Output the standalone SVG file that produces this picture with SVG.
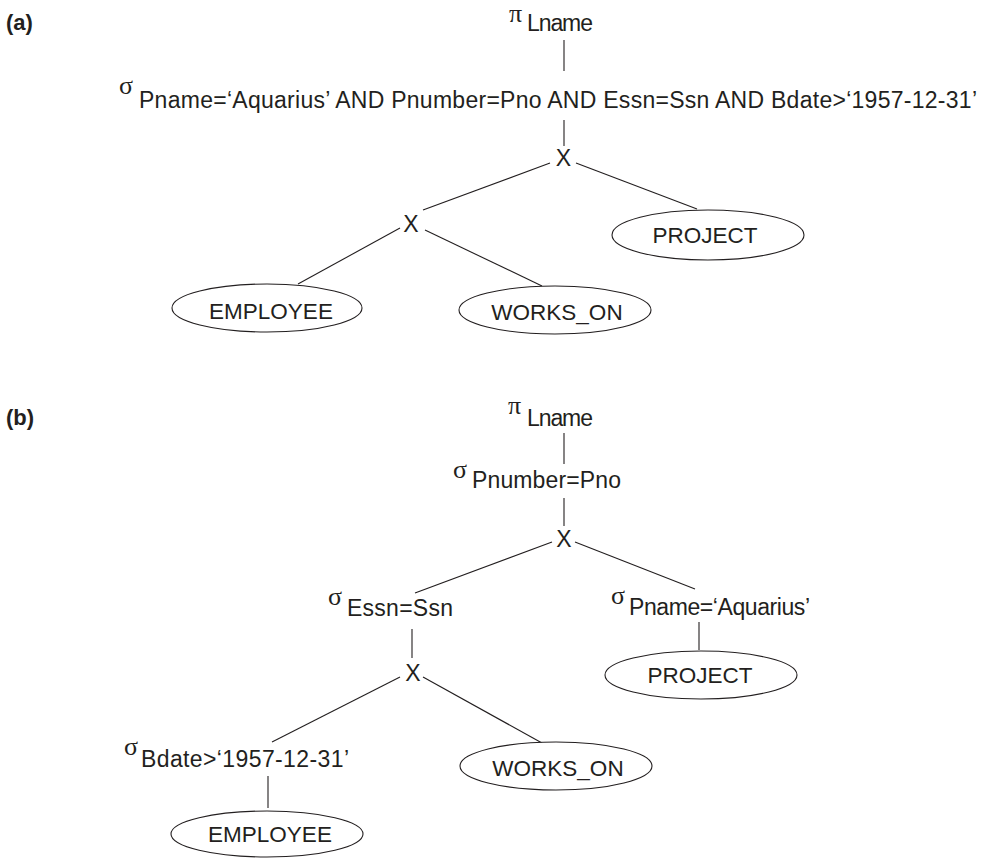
<svg xmlns="http://www.w3.org/2000/svg" width="994" height="858" viewBox="0 0 994 858">
<style>
.t{font-family:"Liberation Sans",Arial,sans-serif;font-size:23px;fill:#231f20}
.e{font-family:"Liberation Sans",Arial,sans-serif;font-size:22.5px;fill:#231f20;text-anchor:middle}
.x{font-family:"Liberation Sans",Arial,sans-serif;font-size:23px;fill:#231f20;text-anchor:middle}
.g{font-family:"Liberation Serif","Times New Roman",serif;font-size:26px;fill:#231f20}
.lbl{font-family:"Liberation Sans",Arial,sans-serif;font-size:22px;font-weight:bold;fill:#231f20}
.el{fill:#fff;stroke:#231f20;stroke-width:1.1}
.c line{stroke:#231f20;stroke-width:1.1}
</style>
<rect width="994" height="858" fill="#fff"/>
<text class="lbl" x="6" y="30">(a)</text>
<text class="lbl" x="6" y="425">(b)</text>

<g class="c" id="connectors">
<line x1="564" y1="40" x2="564" y2="71"/>
<line x1="564" y1="120" x2="564" y2="146"/>
<line x1="550" y1="163" x2="423" y2="210"/>
<line x1="576" y1="163" x2="697" y2="209"/>
<line x1="400" y1="228" x2="298" y2="284"/>
<line x1="425" y1="230" x2="542" y2="286"/>
<line x1="564" y1="433" x2="564" y2="464"/>
<line x1="564" y1="498" x2="564" y2="526"/>
<line x1="552" y1="542" x2="415" y2="593"/>
<line x1="575" y1="542" x2="695" y2="589"/>
<line x1="699" y1="622" x2="699" y2="650"/>
<line x1="412" y1="629" x2="412" y2="658"/>
<line x1="400" y1="677" x2="272" y2="742"/>
<line x1="423" y1="677" x2="542" y2="743"/>
<line x1="268" y1="776" x2="268" y2="808"/>
</g>

<g id="a-pi"><text class="g" x="509" y="22" font-size="22">π</text><text class="t" x="527" y="31" textLength="66">Lname</text></g>
<g id="a-sigma"><text class="g" x="119" y="94">σ</text><text class="t" x="139" y="108" textLength="838" lengthAdjust="spacing">Pname=‘Aquarius’ AND Pnumber=Pno AND Essn=Ssn AND Bdate&gt;‘1957-12-31’</text></g>
<g id="a-x1"><text class="x" x="563.5" y="166">X</text></g>
<g id="a-x2"><text class="x" x="411" y="232">X</text></g>
<g id="a-project"><ellipse class="el" cx="708" cy="235" rx="96" ry="25"/><text class="e" x="705" y="243">PROJECT</text></g>
<g id="a-employee"><ellipse class="el" cx="267" cy="308" rx="95" ry="24"/><text class="e" x="271" y="319">EMPLOYEE</text></g>
<g id="a-workson"><ellipse class="el" cx="555" cy="310" rx="96" ry="24"/><text class="e" x="557" y="320">WORKS_ON</text></g>

<g id="b-pi"><text class="g" x="508" y="414">π</text><text class="t" x="527" y="426" textLength="66">Lname</text></g>
<g id="b-sigma1"><text class="g" x="453" y="478">σ</text><text class="t" x="472" y="488" textLength="149">Pnumber=Pno</text></g>
<g id="b-x1"><text class="x" x="564" y="547">X</text></g>
<g id="b-sigma-essn"><text class="g" x="328" y="605">σ</text><text class="t" x="347" y="616" textLength="106">Essn=Ssn</text></g>
<g id="b-sigma-pname"><text class="g" x="611" y="604">σ</text><text class="t" x="629" y="615" textLength="181">Pname=‘Aquarius’</text></g>
<g id="b-project"><ellipse class="el" cx="701" cy="675" rx="96" ry="24"/><text class="e" x="700" y="683">PROJECT</text></g>
<g id="b-x2"><text class="x" x="413" y="681">X</text></g>
<g id="b-sigma-bdate"><text class="g" x="124" y="755">σ</text><text class="t" x="141" y="767" textLength="208">Bdate&gt;‘1957-12-31’</text></g>
<g id="b-workson"><ellipse class="el" cx="556" cy="766" rx="96" ry="24"/><text class="e" x="558" y="776">WORKS_ON</text></g>
<g id="b-employee"><ellipse class="el" cx="267" cy="834" rx="96" ry="23"/><text class="e" x="270" y="842">EMPLOYEE</text></g>
</svg>
